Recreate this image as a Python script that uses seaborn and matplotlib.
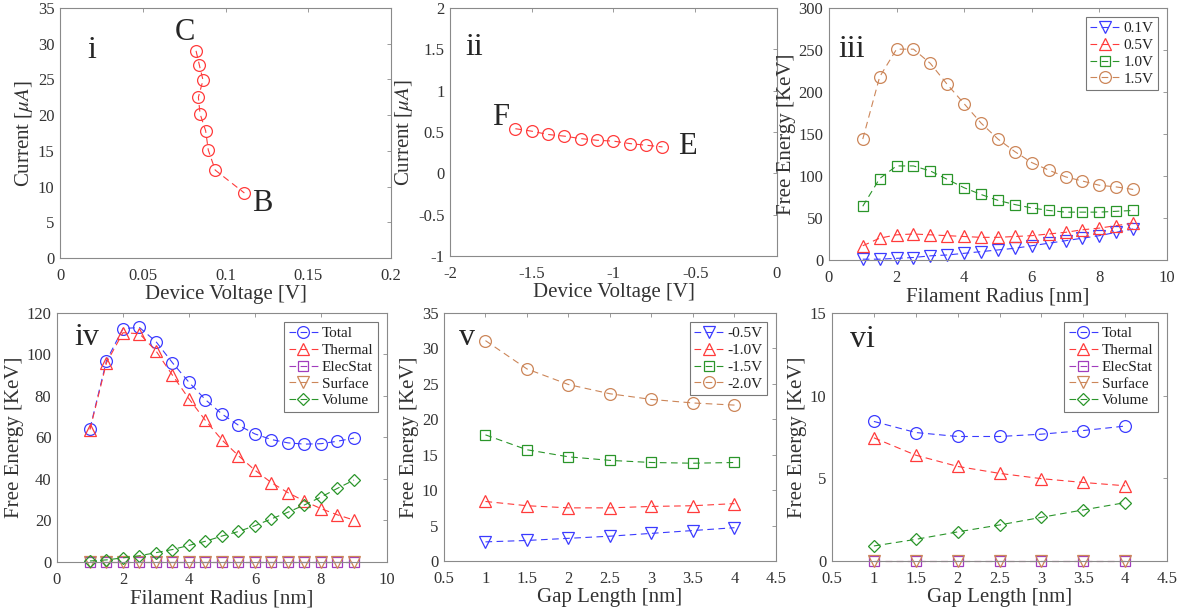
import matplotlib
matplotlib.use("Agg")
import matplotlib.pyplot as plt
import numpy as np
import pandas as pd
import seaborn as sns
from matplotlib.ticker import FuncFormatter

sns.set_theme(style="white")
plt.rcParams["font.family"] = ["Liberation Serif", "DejaVu Serif"]
plt.rcParams["mathtext.fontset"] = "stix"
plt.rcParams["axes.unicode_minus"] = False

# panel i: switching branch B -> C
i_voltage = [0.0822, 0.0842, 0.0864, 0.0836, 0.0846, 0.0880, 0.0896, 0.0938, 0.1114]
i_current = [29.0, 27.0, 24.9, 22.5, 20.2, 17.8, 15.1, 12.3, 9.1]

# panel ii: branch E -> F
ii_voltage = [-1.6, -1.5, -1.4, -1.3, -1.2, -1.1, -1.0, -0.9, -0.8, -0.7]
ii_current = [0.54, 0.51, 0.47, 0.45, 0.42, 0.40, 0.39, 0.36, 0.34, 0.32]

# panels iii / iv: filament radius sweep
radius = [1, 1.5, 2, 2.5, 3, 3.5, 4, 4.5, 5, 5.5, 6, 6.5, 7, 7.5, 8, 8.5, 9]
iii_labels = ["0.1V", "0.5V", "1.0V", "1.5V"]
iii_01v = [1, 1, 2, 3, 5, 6, 8, 10, 12, 14, 17, 20, 23, 26, 29, 33, 37]
iii_05v = [17, 26, 30, 31, 30, 29, 28, 27, 27, 28, 29, 31, 33, 36, 38, 41, 44]
iii_10v = [64, 97, 112, 112, 106, 96, 86, 78, 71, 66, 62, 59, 57, 57, 57, 58, 59]
iii_15v = [144, 218, 251, 251, 234, 209, 186, 163, 144, 129, 116, 107, 99, 94, 89, 87, 84]

iv_total = [64.3, 97.0, 112.5, 113.0, 106.2, 96.0, 86.6, 78.2, 71.3, 65.9, 61.7, 59.0, 57.4, 56.8, 57.0, 58.2, 59.7]
iv_thermal = [63.8, 96.0, 110.5, 110.0, 101.7, 90.0, 78.6, 68.2, 58.8, 51.2, 44.2, 38.2, 33.4, 29.3, 25.7, 22.7, 20.2]
iv_elecstat = [0.0] * 17
iv_surface = [0.0] * 17
iv_volume = [0.5, 1.0, 2.0, 3.0, 4.5, 6.0, 8.0, 10.0, 12.5, 14.7, 17.5, 20.8, 24.0, 27.5, 31.3, 35.5, 39.5]

# panels v / vi: gap length sweep
gap = [1, 1.5, 2, 2.5, 3, 3.5, 4]
v_labels = ["-0.5V", "-1.0V", "-1.5V", "-2.0V"]
v_05v = [2.7, 2.9, 3.2, 3.5, 3.9, 4.3, 4.7]
v_10v = [8.4, 7.8, 7.5, 7.5, 7.7, 7.8, 8.1]
v_15v = [17.8, 15.7, 14.7, 14.2, 13.9, 13.8, 13.9]
v_20v = [31.1, 27.1, 24.9, 23.6, 22.8, 22.3, 22.0]

vi_total = [8.44, 7.77, 7.53, 7.53, 7.67, 7.89, 8.16]
vi_thermal = [7.45, 6.40, 5.72, 5.30, 4.98, 4.75, 4.55]
vi_elecstat = [0.0] * 7
vi_surface = [0.0] * 7
vi_volume = [0.91, 1.31, 1.76, 2.18, 2.64, 3.09, 3.53]

component_labels = ["Total", "Thermal", "ElecStat", "Surface", "Volume"]

BLUE = "#3b3bff"
RED = "#ff3b3b"
GREEN = "#2a952a"
PURPLE = "#a13bbd"
BROWN = "#cc8659"
MARKER_SIZE = {"o": 8.5, "^": 8.5, "v": 8.5, "s": 7, "D": 6}


def _draw_series(ax, x, y, color, marker, label=None):
    """Dashed line with open markers, matlab-like."""
    df = pd.DataFrame({"x": x, "y": y})
    sns.lineplot(
        data=df, x="x", y="y", ax=ax, sort=False, estimator=None,
        color=color, linewidth=0.8, linestyle=(0, (6, 4)),
        marker=marker, markersize=MARKER_SIZE[marker],
        markerfacecolor="none", markeredgecolor=color, markeredgewidth=0.9,
        label=label, clip_on=False,
    )


def _style_axes(ax, xlim, xticks, ylim, yticks, xlabel, ylabel):
    ax.set_xlim(*xlim)
    ax.set_ylim(*ylim)
    ax.set_xticks(xticks)
    ax.set_yticks(yticks)
    fmt = FuncFormatter(lambda v, p: f"{v:g}")
    ax.xaxis.set_major_formatter(fmt)
    ax.yaxis.set_major_formatter(fmt)
    ax.tick_params(direction="in", length=3, width=0.6, color="#8a8a8a",
                   labelsize=12, labelcolor="#333333", top=True, right=True)
    ax.tick_params(axis="x", pad=7)
    ax.tick_params(axis="y", pad=4)
    for spine in ax.spines.values():
        spine.set_color("#8a8a8a")
        spine.set_linewidth(0.8)
    ax.set_xlabel(xlabel, fontsize=15, color="#333333", labelpad=1)
    ax.set_ylabel(ylabel, fontsize=15, color="#333333", labelpad=2)


def _legend(ax):
    leg = ax.legend(loc="upper right", fontsize=11, frameon=True, fancybox=False,
                    handlelength=1.9, handletextpad=0.25, labelspacing=0.2,
                    borderpad=0.3, borderaxespad=0.6)
    leg.get_frame().set_edgecolor("#555555")
    leg.get_frame().set_linewidth(0.8)
    for text in leg.get_texts():
        text.set_color("#222222")


fig = plt.figure(figsize=(11.77, 6.15), dpi=100)
ax_i = fig.add_axes([0.0510, 0.5805, 0.2812, 0.4065])
ax_ii = fig.add_axes([0.3823, 0.5837, 0.2778, 0.4033])
ax_iii = fig.add_axes([0.7043, 0.5772, 0.2872, 0.4098])
ax_iv = fig.add_axes([0.0484, 0.0862, 0.2804, 0.4049])
ax_v = fig.add_axes([0.3772, 0.0878, 0.2821, 0.4033])
ax_vi = fig.add_axes([0.7069, 0.0878, 0.2846, 0.4033])

# i
_draw_series(ax_i, i_voltage, i_current, RED, "o")
_style_axes(ax_i, (0, 0.2), [0, 0.05, 0.1, 0.15, 0.2], (0, 35), np.arange(0, 36, 5),
            "Device Voltage [V]", r"Current [$\mu A$]")
ax_i.text(0.019, 29, "i", fontsize=23, ha="center", va="center")
ax_i.text(0.0755, 31.6, "C", fontsize=22, ha="center", va="center")
ax_i.text(0.122, 7.6, "B", fontsize=22, ha="center", va="center")

# ii
_draw_series(ax_ii, ii_voltage, ii_current, RED, "o")
_style_axes(ax_ii, (-2, 0), [-2, -1.5, -1, -0.5, 0], (-1, 2), np.arange(-1, 2.01, 0.5),
            "Device Voltage [V]", r"Current [$\mu A$]")
ax_ii.text(-1.85, 1.52, "ii", fontsize=23, ha="center", va="center")
ax_ii.text(-1.69, 0.67, "F", fontsize=22, ha="center", va="center")
ax_ii.text(-0.55, 0.32, "E", fontsize=22, ha="center", va="center")

# iii
for values, color, marker, label in zip(
        [iii_01v, iii_05v, iii_10v, iii_15v], [BLUE, RED, GREEN, BROWN],
        ["v", "^", "s", "o"], iii_labels):
    _draw_series(ax_iii, radius, values, color, marker, label)
_style_axes(ax_iii, (0, 10), np.arange(0, 11, 2), (0, 300), np.arange(0, 301, 50),
            "Filament Radius [nm]", "Free Energy [KeV]")
_legend(ax_iii)
ax_iii.text(0.68, 250, "iii", fontsize=23, ha="center", va="center")

# iv
for values, color, marker, label in zip(
        [iv_total, iv_thermal, iv_elecstat, iv_surface, iv_volume],
        [BLUE, RED, PURPLE, BROWN, GREEN], ["o", "^", "s", "v", "D"], component_labels):
    _draw_series(ax_iv, radius, values, color, marker, label)
_style_axes(ax_iv, (0, 10), np.arange(0, 11, 2), (0, 120), np.arange(0, 121, 20),
            "Filament Radius [nm]", "Free Energy [KeV]")
_legend(ax_iv)
ax_iv.text(0.91, 108, "iv", fontsize=23, ha="center", va="center")

# v
for values, color, marker, label in zip(
        [v_05v, v_10v, v_15v, v_20v], [BLUE, RED, GREEN, BROWN],
        ["v", "^", "s", "o"], v_labels):
    _draw_series(ax_v, gap, values, color, marker, label)
_style_axes(ax_v, (0.5, 4.5), np.arange(0.5, 4.51, 0.5), (0, 35), np.arange(0, 36, 5),
            "Gap Length [nm]", "Free Energy [KeV]")
_legend(ax_v)
ax_v.text(0.78, 31.5, "v", fontsize=23, ha="center", va="center")

# vi
for values, color, marker, label in zip(
        [vi_total, vi_thermal, vi_elecstat, vi_surface, vi_volume],
        [BLUE, RED, PURPLE, BROWN, GREEN], ["o", "^", "s", "v", "D"], component_labels):
    _draw_series(ax_vi, gap, values, color, marker, label)
_style_axes(ax_vi, (0.5, 4.5), np.arange(0.5, 4.51, 0.5), (0, 15), np.arange(0, 16, 5),
            "Gap Length [nm]", "Free Energy [KeV]")
_legend(ax_vi)
ax_vi.text(0.86, 13.4, "vi", fontsize=23, ha="center", va="center")

fig.savefig("out.png", dpi=100, facecolor="white")
plt.close(fig)
